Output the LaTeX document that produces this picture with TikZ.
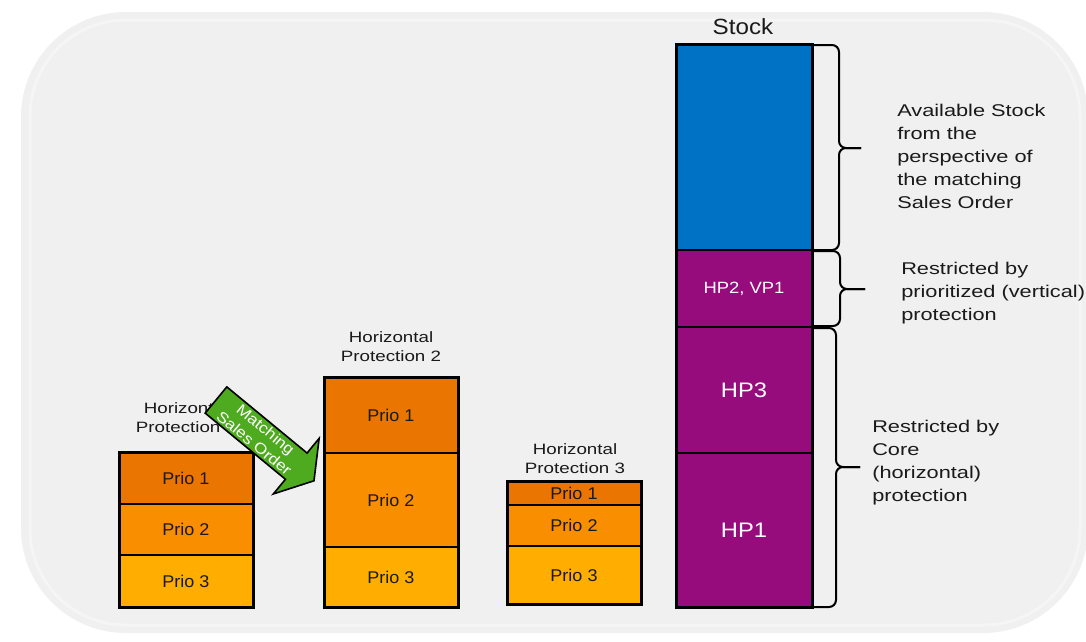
\documentclass[tikz,border=0pt]{standalone}
\usepackage{fontspec}
\usepackage{graphicx}
\setmainfont{Liberation Sans}
\newcommand\myfs[2]{\fontsize{#1}{#2}\selectfont}
\newcommand\hsc[2]{\scalebox{#1}[1]{#2}}
\definecolor{bgc}{HTML}{F0F0F0}
\definecolor{pone}{HTML}{EA7500}
\definecolor{ptwo}{HTML}{F98E00}
\definecolor{pthree}{HTML}{FFAE00}
\definecolor{stblue}{HTML}{0072C6}
\definecolor{stpurple}{HTML}{960C7C}
\definecolor{arrgreen}{HTML}{4EAA1E}
\definecolor{txt}{HTML}{1A1A1A}
\begin{document}
\begin{tikzpicture}[x=1pt,y=-1pt,
  blk/.style={draw=black, line width=2pt, inner sep=0pt, outer sep=0pt, anchor=north west,
              text=txt, font=\myfs{17}{20}},
  stk/.style={blk, fill=stpurple, text=white},
  outline/.style={draw=black, line width=3pt},
  brace/.style={draw=black, line width=2pt, rounded corners=7pt},
  rtxt/.style={font=\myfs{17}{23}, align=left, xscale=1.28, inner sep=0pt, text=txt, anchor=west},
  lbl/.style={font=\myfs{15}{19}, align=center, xscale=1.25, inner sep=0pt, text=txt}]
\useasboundingbox (0,0) rectangle (1086,641);
\fill[white] (0,0) rectangle (1086,641);
\fill[bgc, rounded corners=105pt] (21,12) rectangle (1088,633);
\draw[white, opacity=0.35, line width=3pt, rounded corners=96pt] (30,20) rectangle (1080,625);

% Column 1
\node[lbl] (l1) at (186,418) {Horizontal\\Protection 1};
\node[blk, fill=pone, minimum width=134pt, minimum height=52pt] (p11) at (119,452) {\hsc{1.06}{Prio 1}};
\node[blk, fill=ptwo, minimum width=134pt, minimum height=51pt] (p12) at (119,504) {\hsc{1.06}{Prio 2}};
\node[blk, fill=pthree, minimum width=134pt, minimum height=52pt] (p13) at (119,555) {\hsc{1.06}{Prio 3}};
\draw[outline] (p11.north west) rectangle (p13.south east);

% Column 2
\node[lbl] (l2) at (391,346.5) {Horizontal\\Protection 2};
\node[blk, fill=pone, minimum width=134pt, minimum height=76pt] (p21) at (324,377) {\hsc{1.06}{Prio 1}};
\node[blk, fill=ptwo, minimum width=134pt, minimum height=94pt] (p22) at (324,453) {\hsc{1.06}{Prio 2}};
\node[blk, fill=pthree, minimum width=134pt, minimum height=60pt] (p23) at (324,547) {\hsc{1.06}{Prio 3}};
\draw[outline] (p21.north west) rectangle (p23.south east);

% Column 3
\node[lbl] (l3) at (575,458.5) {Horizontal\\Protection 3};
\node[blk, fill=pone, minimum width=134pt, minimum height=24pt] (p31) at (507,481) {\hsc{1.06}{Prio 1}};
\node[blk, fill=ptwo, minimum width=134pt, minimum height=41pt] (p32) at (507,505) {\hsc{1.06}{Prio 2}};
\node[blk, fill=pthree, minimum width=134pt, minimum height=58pt] (p33) at (507,546) {\hsc{1.06}{Prio 3}};
\draw[outline] (p31.north west) rectangle (p33.south east);

% Stock column
\node[font=\myfs{22}{26}, xscale=1.1, text=txt, inner sep=0pt] (stock) at (743,27) {Stock};
\node[blk, fill=stblue, minimum width=136pt, minimum height=206pt] (s1) at (676,44) {};
\node[stk, minimum width=136pt, minimum height=77pt, font=\myfs{16.3}{20}] (s2) at (676,250) {\hsc{1.13}{HP2, VP1}};
\node[stk, minimum width=136pt, minimum height=126pt, font=\myfs{21}{24}] (s3) at (676,327) {\hsc{1.13}{HP3}};
\node[stk, minimum width=136pt, minimum height=154pt, font=\myfs{21}{24}] (s4) at (676,453) {\hsc{1.13}{HP1}};
\draw[outline] (s1.north west) rectangle (s4.south east);

% Braces
\draw[brace] (812,45) -- (839,45) -- (839,148) -- (861,148);
\draw[brace] (812,250) -- (839,250) -- (839,148) -- (861,148);
\draw[brace] (812,251) -- (840,251) -- (840,289) -- (865,289);
\draw[brace] (812,326) -- (840,326) -- (840,289) -- (865,289);
\draw[brace] (812,328) -- (836,328) -- (836,467) -- (860,467);
\draw[brace] (812,607) -- (836,607) -- (836,467) -- (860,467);

% Brace texts
\node[rtxt] (t1) at (897,156) {Available Stock\\from the\\perspective of\\the matching\\Sales Order};
\node[rtxt] (t2) at (901,293) {Restricted by\\prioritized (vertical)\\protection};
\node[rtxt] (t3) at (872,463) {Restricted by\\Core\\(horizontal)\\protection};

% Green block arrow
\begin{scope}[shift={(216,400)}, rotate=-39.5]
\draw[fill=arrgreen, draw=black, line width=1.6pt, line join=miter]
  (0,-17) -- (104,-17) -- (104,-36) -- (127,0) -- (104,36) -- (104,17) -- (0,17) -- cycle;
\node[transform shape, text=white, font=\myfs{15}{18}, align=center, xscale=1.15, inner sep=0pt] (mso) at (57,0) {Matching\\Sales Order};
\end{scope}
\end{tikzpicture}
\end{document}
